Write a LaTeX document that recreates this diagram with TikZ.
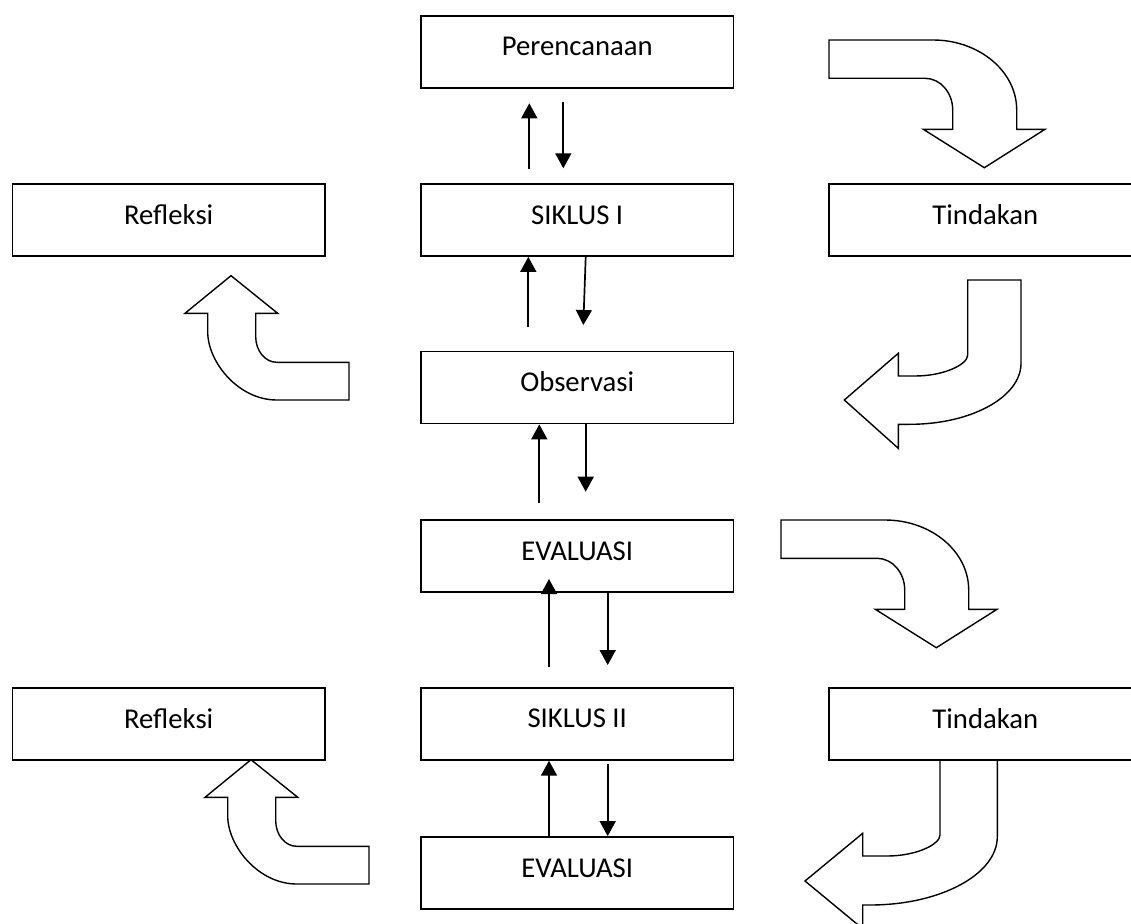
\documentclass[tikz,border=0pt]{standalone}
\usepackage{fontspec}
\setmainfont{Carlito}
\usetikzlibrary{arrows.meta}
\tikzset{
  box/.style={draw, line width=1.8pt, minimum width=312.6pt, minimum height=72pt,
    inner sep=0pt, text height=18pt, text depth=10pt,
    font=\fontsize{28.7}{34}\selectfont},
  sarrow/.style={line width=1.7pt, -{Triangle[width=16pt,length=15pt]}},
  bent/.style={draw, line width=1.4pt, line join=miter},
  bentdown/.pic={\draw[bent] (829,40) -- (933,40) .. controls (979.2,40) and (1016.7,71.4) .. (1016.7,110)
      -- (1016.7,129.3) -- (1045,129.3) -- (984.3,167.7) -- (923.3,129.3) -- (952.7,129.3)
      -- (952.7,110) .. controls (952.7,92.5) and (940.3,78.3) .. (925,78.3) -- (829,78.3) -- cycle;},
  bentup/.pic={\draw[bent] (231,275.7) -- (277.7,313.3) -- (255.7,313.3) -- (255.7,336.7)
      .. controls (255.7,350.8) and (265.1,362.3) .. (276.7,362.3) -- (349,362.3) -- (349,400)
      -- (276.7,400) .. controls (238.6,400) and (207.7,362.3) .. (207.7,331.7)
      -- (207.7,313.3) -- (185,313.3) -- cycle;}
}
\begin{document}
\begin{tikzpicture}[x=1pt,y=-1pt]
\useasboundingbox[fill=white] (0,0) rectangle (1131,923);

% boxes
\node[box] (P)  at (577.2,51.7) {Perencanaan};
\node[box] (S1) at (577.2,220) {SIKLUS I};
\node[box] (O)  at (577.2,387.5) {Observasi};
\node[box] (E1) at (577.2,556.2) {EVALUASI};
\node[box] (S2) at (577.2,723.8) {SIKLUS II};
\node[box] (E2) at (577.2,873) {EVALUASI};
\node[box] (R1) at (168.7,220) {Refleksi};
\node[box] (R2) at (168.7,724) {Refleksi};
\node[box] (T1) at (985.3,220) {Tindakan};
\node[box] (T2) at (985.3,724) {Tindakan};

% small arrow end points
\coordinate (a1s) at (529.3,169);   \coordinate (a1e) at (529.3,103.3);
\coordinate (a2s) at (563.3,101.7); \coordinate (a2e) at (563.3,168.3);
\coordinate (a3s) at (528.3,326.7);
\coordinate (a4x) at (585.7,0);     \coordinate (a4e) at (583.3,325);
\coordinate (a5s) at (539.3,503.3);
\coordinate (a6x) at (585.7,0);     \coordinate (a6e) at (585.7,491.7);
\coordinate (a7s) at (549,666.7);   \coordinate (a7e) at (549,579);
\coordinate (a8e) at (607.7,665);
\coordinate (a9x) at (549,0);
\coordinate (a10s) at (607.7,764);

\draw[sarrow] (a1s) -- (a1e);
\draw[sarrow] (a2s) -- (a2e);
\draw[sarrow] (a3s) -- (a3s |- S1.south);
\draw[sarrow] (S1.south -| a4x) -- (a4e);
\draw[sarrow] (a5s) -- (a5s |- O.south);
\draw[sarrow] (O.south -| a6x) -- (a6e);
\draw[sarrow] (a7s) -- (a7e);
\draw[sarrow] (E1.south -| a8e) -- (a8e);
\draw[sarrow] (E2.north -| a9x) -- (S2.south -| a9x);
\draw[sarrow] (a10s) -- (a10s |- E2.north);

% bent block arrows
\pic at (0,0) {bentdown};
\pic at (-48,480) {bentdown};
\pic at (0,0) {bentup};
\pic at (20,484) {bentup};

\draw[bent] (967.7,280) -- (1021,280) -- (1021,363.3) .. controls (1021,397) and (971.3,424.3) .. (910,424.3)
  -- (898.3,424.3) -- (898.3,448.3) -- (844.3,400) -- (898.3,353.3) -- (898.3,376) -- (915,376)
  .. controls (944.1,376) and (967.7,364.4) .. (967.7,355) -- cycle;

\draw[bent] (940,760) -- (997.3,760) -- (997.3,836.7) .. controls (997.3,874.4) and (940.3,905) .. (870,905)
  -- (862.7,905) -- (862.7,928.7) -- (805,881) -- (862.7,833.3) -- (862.7,856) -- (887,856)
  .. controls (916.3,856) and (940,844.4) .. (940,835) -- cycle;
\end{tikzpicture}
\end{document}
